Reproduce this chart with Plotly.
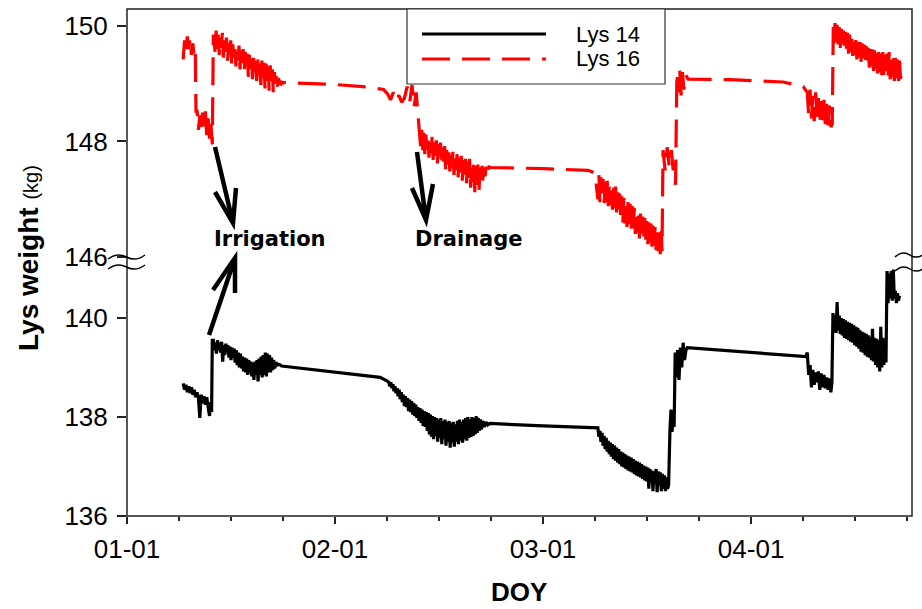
import plotly.graph_objects as go

# ---------------- data (day index: 30 units per labelled tick) ----------------
tick_vals = [0, 30, 60, 90]
tick_text = ["01-01", "02-01", "03-01", "04-01"]

# Lys 16 samples: (day, kg)
lys16_samples = [
    (8.1, 149.42), (8.3, 149.75), (8.5, 149.55), (8.7, 149.82), (8.9, 149.6), (9.1, 149.78),
    (9.3, 149.5), (9.5, 149.7), (9.7, 149.45), (9.85, 149.55), (9.95, 148.5),
    (10.1, 148.55), (10.3, 148.2), (10.5, 148.45), (10.7, 148.15), (10.9, 148.5), (11.1, 148.25),
    (11.3, 148.52), (11.5, 148.1), (11.7, 148.4), (11.9, 148.05), (12.1, 148.3), (12.3, 147.95),
    (12.45, 149.85),
    (12.55, 149.75), (12.70, 149.55), (12.85, 149.92), (13.00, 149.6), (13.15, 149.85), (13.30, 149.5),
    (13.45, 149.8), (13.60, 149.62), (13.75, 149.88), (13.90, 149.45), (14.05, 149.78), (14.20, 149.55),
    (14.35, 149.8), (14.50, 149.4), (14.65, 149.7), (14.80, 149.5), (14.95, 149.75), (15.10, 149.35),
    (15.25, 149.68), (15.40, 149.45), (15.55, 149.7), (15.70, 149.3), (15.85, 149.62), (16.00, 149.4),
    (16.15, 149.66), (16.30, 149.25), (16.45, 149.58), (16.60, 149.35), (16.75, 149.6), (16.90, 149.2),
    (17.05, 149.55), (17.20, 149.3), (17.35, 149.52), (17.50, 149.12), (17.65, 149.5), (17.80, 149.25),
    (17.95, 149.48), (18.10, 149.08), (18.25, 149.45), (18.40, 149.2), (18.55, 149.5), (18.70, 149.05),
    (18.85, 149.42), (19.00, 149.15), (19.15, 149.45), (19.30, 148.98), (19.45, 149.4), (19.60, 149.1),
    (19.75, 149.38), (19.90, 148.92), (20.05, 149.35), (20.20, 149.05), (20.35, 149.3), (20.50, 148.88),
    (20.65, 149.32), (20.80, 149.0), (20.95, 149.25), (21.10, 148.85), (21.25, 149.2), (21.40, 149.0),
    (21.55, 149.15), (21.70, 148.95), (21.85, 149.1), (22.00, 148.98), (22.15, 149.05), (22.30, 149.0),
    (22.50, 149.02),
    (29.5, 148.99), (34.0, 148.95), (37.0, 148.9),
    (37.6, 148.82), (38.0, 148.72), (38.4, 148.85), (38.8, 148.7), (39.2, 148.8), (39.6, 148.68),
    (40.0, 148.75), (40.4, 148.95), (40.8, 148.7), (41.1, 148.98), (41.4, 148.6), (41.7, 148.85),
    (42.0, 148.45), (42.2, 148.25),
    (42.35, 147.9), (42.50, 148.2), (42.65, 147.85), (42.80, 148.15), (42.95, 147.78), (43.10, 148.12),
    (43.25, 147.85), (43.40, 148.1), (43.55, 147.72), (43.70, 148.05), (43.85, 147.8), (44.00, 148.08),
    (44.15, 147.68), (44.30, 148.0), (44.45, 147.75), (44.60, 148.02), (44.75, 147.62), (44.90, 147.95),
    (45.05, 147.7), (45.20, 147.98), (45.35, 147.58), (45.50, 147.9), (45.65, 147.65), (45.80, 147.92),
    (45.95, 147.52), (46.10, 147.85), (46.25, 147.6), (46.40, 147.88), (46.55, 147.48), (46.70, 147.8),
    (46.85, 147.55), (47.00, 147.82), (47.15, 147.42), (47.30, 147.75), (47.45, 147.5), (47.60, 147.78),
    (47.75, 147.38), (47.90, 147.72), (48.05, 147.45), (48.20, 147.75), (48.35, 147.32), (48.50, 147.68),
    (48.65, 147.4), (48.80, 147.7), (48.95, 147.28), (49.10, 147.65), (49.25, 147.35), (49.40, 147.7),
    (49.55, 147.2), (49.70, 147.62), (49.85, 147.3), (50.00, 147.65), (50.15, 147.12), (50.30, 147.58),
    (50.45, 147.25), (50.60, 147.6), (50.75, 147.1), (50.90, 147.55), (51.05, 147.3), (51.20, 147.58),
    (51.35, 147.25), (51.50, 147.55), (51.65, 147.4), (51.80, 147.58), (52.00, 147.45), (52.20, 147.56),
    (52.50, 147.55),
    (60.0, 147.53), (66.5, 147.5), (67.5, 147.45),
    (67.90, 147.0), (68.05, 147.42), (68.20, 146.95), (68.35, 147.38), (68.50, 147.0), (68.65, 147.35),
    (68.80, 146.92), (68.95, 147.3), (69.10, 146.95), (69.25, 147.32), (69.40, 146.88), (69.55, 147.28),
    (69.70, 146.9), (69.85, 147.25), (70.00, 146.82), (70.15, 147.2), (70.30, 146.85), (70.45, 147.22),
    (70.60, 146.75), (70.75, 147.12), (70.90, 146.8), (71.05, 147.1), (71.20, 146.65), (71.35, 147.05),
    (71.50, 146.6), (71.65, 147.02), (71.80, 146.58), (71.95, 146.98), (72.10, 146.52), (72.25, 146.95),
    (72.40, 146.55), (72.55, 146.92), (72.70, 146.45), (72.85, 146.88), (73.00, 146.5), (73.15, 146.85),
    (73.30, 146.4), (73.45, 146.8), (73.60, 146.42), (73.75, 146.78), (73.90, 146.32), (74.05, 146.75),
    (74.20, 146.35), (74.35, 146.7), (74.50, 146.28), (74.65, 146.68), (74.80, 146.3), (74.95, 146.62),
    (75.10, 146.22), (75.25, 146.6), (75.40, 146.25), (75.55, 146.58), (75.70, 146.18), (75.85, 146.55),
    (76.00, 146.2), (76.15, 146.52), (76.30, 146.12), (76.45, 146.5), (76.60, 146.1), (76.75, 146.48),
    (76.90, 146.05), (77.05, 146.45), (77.15, 146.1),
    (77.3, 147.85), (77.6, 147.5), (77.9, 147.9), (78.2, 147.55), (78.5, 147.85), (78.8, 147.45),
    (79.1, 147.25),
    (79.3, 149.2), (79.5, 148.85), (79.7, 149.25), (79.9, 148.8), (80.1, 149.2), (80.3, 148.9),
    (80.6, 149.15), (80.9, 149.08),
    (87.0, 149.07), (94.6, 149.03), (97.5, 148.95),
    (98.1, 148.85), (98.3, 148.45), (98.5, 148.9), (98.7, 148.4), (98.9, 148.8), (99.1, 148.35),
    (99.3, 148.85), (99.5, 148.4), (99.7, 148.75), (99.9, 148.3), (100.1, 148.7), (100.3, 148.35),
    (100.5, 148.72), (100.7, 148.3), (100.9, 148.65), (101.1, 148.28), (101.3, 148.62), (101.5, 148.25),
    (101.7, 148.3),
    (101.85, 150.0),
    (101.95, 149.7), (102.10, 150.05), (102.25, 149.72), (102.40, 150.02), (102.55, 149.68), (102.70, 149.98),
    (102.85, 149.62), (103.00, 149.95), (103.15, 149.65), (103.30, 149.92), (103.45, 149.58), (103.60, 149.9),
    (103.75, 149.6), (103.90, 149.88), (104.05, 149.52), (104.20, 149.85), (104.35, 149.55), (104.50, 149.82),
    (104.65, 149.48), (104.80, 149.8), (104.95, 149.5), (105.10, 149.78), (105.25, 149.42), (105.40, 149.75),
    (105.55, 149.45), (105.70, 149.72), (105.85, 149.38), (106.00, 149.7), (106.15, 149.4), (106.30, 149.68),
    (106.45, 149.32), (106.60, 149.65), (106.75, 149.35), (106.90, 149.62), (107.05, 149.28), (107.20, 149.6),
    (107.35, 149.3), (107.50, 149.6), (107.65, 149.22), (107.80, 149.58), (107.95, 149.25), (108.10, 149.55),
    (108.25, 149.18), (108.40, 149.55), (108.55, 149.2), (108.70, 149.52), (108.85, 149.15), (109.00, 149.55),
    (109.15, 149.12), (109.30, 149.5), (109.45, 149.15), (109.60, 149.52), (109.75, 149.1), (109.90, 149.55),
    (110.05, 149.08), (110.20, 149.5), (110.35, 149.12), (110.50, 149.48), (110.65, 149.05), (110.80, 149.45),
    (110.95, 149.1), (111.10, 149.42), (111.25, 149.05), (111.40, 149.4), (111.55, 149.08), (111.70, 149.35),
]

# Lys 14 samples: (day, kg)
lys14_samples = [
    (8.1, 138.68), (8.3, 138.55), (8.5, 138.65), (8.7, 138.5), (8.9, 138.62), (9.1, 138.48),
    (9.3, 138.6), (9.5, 138.45), (9.7, 138.55), (9.9, 138.4), (10.1, 138.5), (10.3, 138.38),
    (10.5, 137.98), (10.7, 138.45), (10.9, 138.28), (11.1, 138.42), (11.3, 138.25), (11.5, 138.4),
    (11.7, 138.2), (11.9, 138.02), (12.05, 138.3), (12.2, 138.1),
    (12.3, 139.55),
    (12.45, 139.55), (12.60, 139.35), (12.75, 139.5), (12.90, 139.28), (13.05, 139.55), (13.20, 139.35),
    (13.35, 139.5), (13.50, 139.3), (13.65, 139.52), (13.80, 139.12), (13.95, 139.45), (14.10, 139.25),
    (14.25, 139.48), (14.40, 139.3), (14.55, 139.45), (14.70, 139.2), (14.85, 139.42), (15.00, 139.15),
    (15.15, 139.4), (15.30, 139.2), (15.45, 139.38), (15.60, 139.1), (15.75, 139.35), (15.90, 139.05),
    (16.05, 139.3), (16.20, 139.0), (16.35, 139.28), (16.50, 138.98), (16.65, 139.22), (16.80, 138.92),
    (16.95, 139.2), (17.10, 138.9), (17.25, 139.18), (17.40, 138.85), (17.55, 139.15), (17.70, 138.88),
    (17.85, 139.12), (18.00, 138.82), (18.15, 139.1), (18.30, 138.75), (18.45, 139.12), (18.60, 138.85),
    (18.75, 139.15), (18.90, 138.72), (19.05, 139.18), (19.20, 138.85), (19.35, 139.22), (19.50, 138.8),
    (19.65, 139.25), (19.80, 138.85), (19.95, 139.3), (20.10, 138.82), (20.25, 139.28), (20.40, 138.9),
    (20.55, 139.25), (20.70, 138.9), (20.85, 139.2), (21.00, 138.95), (21.15, 139.15), (21.30, 138.98),
    (21.50, 139.1), (21.75, 139.05), (22.00, 139.06), (22.30, 139.03),
    (30.0, 138.9), (36.5, 138.8), (37.6, 138.72),
    (37.75, 138.7), (37.90, 138.62), (38.05, 138.7), (38.20, 138.58), (38.35, 138.66), (38.50, 138.52),
    (38.65, 138.62), (38.80, 138.48), (38.95, 138.58), (39.10, 138.42), (39.25, 138.55), (39.40, 138.36),
    (39.55, 138.5), (39.70, 138.3), (39.85, 138.45), (40.00, 138.22), (40.15, 138.42), (40.30, 138.2),
    (40.45, 138.38), (40.60, 138.12), (40.75, 138.35), (40.90, 138.1), (41.05, 138.32), (41.20, 138.05),
    (41.35, 138.28), (41.50, 138.02), (41.65, 138.25), (41.80, 137.98), (41.95, 138.2), (42.10, 137.92),
    (42.25, 138.18), (42.40, 137.88), (42.55, 138.15), (42.70, 137.82), (42.85, 138.12), (43.00, 137.8),
    (43.15, 138.1), (43.30, 137.72), (43.45, 138.08), (43.60, 137.65), (43.75, 138.05), (43.90, 137.6),
    (44.05, 138.02), (44.20, 137.55), (44.35, 138.0), (44.50, 137.62), (44.65, 137.98), (44.80, 137.5),
    (44.95, 137.95), (45.10, 137.58), (45.25, 137.98), (45.40, 137.45), (45.55, 137.92), (45.70, 137.55),
    (45.85, 137.95), (46.00, 137.42), (46.15, 137.9), (46.30, 137.5), (46.45, 137.92), (46.60, 137.38),
    (46.75, 137.88), (46.90, 137.48), (47.05, 137.9), (47.20, 137.4), (47.35, 137.85), (47.50, 137.5),
    (47.65, 137.92), (47.80, 137.45), (47.95, 137.95), (48.10, 137.52), (48.25, 137.9), (48.40, 137.48),
    (48.55, 137.95), (48.70, 137.55), (48.85, 137.98), (49.00, 137.52), (49.15, 138.0), (49.30, 137.58),
    (49.45, 137.95), (49.60, 137.6), (49.75, 138.0), (49.90, 137.62), (50.05, 137.98), (50.20, 137.65),
    (50.35, 138.02), (50.50, 137.68), (50.65, 137.98), (50.80, 137.72), (50.95, 137.95), (51.10, 137.75),
    (51.30, 137.92), (51.50, 137.8), (51.75, 137.9), (52.00, 137.84), (52.30, 137.87),
    (60.0, 137.82), (67.5, 137.78),
    (67.90, 137.78), (68.05, 137.6), (68.20, 137.72), (68.35, 137.5), (68.50, 137.68), (68.65, 137.42),
    (68.80, 137.62), (68.95, 137.35), (69.10, 137.58), (69.25, 137.3), (69.40, 137.52), (69.55, 137.25),
    (69.70, 137.48), (69.85, 137.2), (70.00, 137.45), (70.15, 137.15), (70.30, 137.42), (70.45, 137.12),
    (70.60, 137.38), (70.75, 137.08), (70.90, 137.35), (71.05, 137.05), (71.20, 137.3), (71.35, 137.0),
    (71.50, 137.28), (71.65, 136.98), (71.80, 137.25), (71.95, 136.95), (72.10, 137.22), (72.25, 136.92),
    (72.40, 137.2), (72.55, 136.9), (72.70, 137.18), (72.85, 136.88), (73.00, 137.15), (73.15, 136.85),
    (73.30, 137.12), (73.45, 136.82), (73.60, 137.1), (73.75, 136.8), (73.90, 137.08), (74.05, 136.78),
    (74.20, 137.05), (74.35, 136.75), (74.50, 137.02), (74.65, 136.72), (74.80, 137.0), (74.95, 136.7),
    (75.10, 136.98), (75.25, 136.55), (75.40, 136.95), (75.55, 136.68), (75.70, 136.92), (75.85, 136.5),
    (76.00, 136.9), (76.15, 136.65), (76.30, 136.95), (76.45, 136.48), (76.60, 136.9), (76.75, 136.62),
    (76.90, 136.88), (77.05, 136.5), (77.20, 136.85), (77.35, 136.55), (77.50, 136.82), (77.65, 136.5),
    (77.80, 136.78), (77.95, 136.55), (78.10, 136.62),
    (78.3, 137.75), (78.45, 138.15), (78.6, 137.7), (78.75, 138.1), (78.9, 137.8),
    (79.05, 139.3), (79.2, 138.8), (79.4, 139.35), (79.6, 138.75), (79.8, 139.4), (80.0, 139.0),
    (80.2, 139.5), (80.4, 139.15), (80.6, 139.35),
    (80.8, 139.4), (90.0, 139.3), (97.9, 139.22),
    (98.1, 139.3), (98.3, 138.85), (98.5, 139.05), (98.7, 138.6), (98.9, 138.95), (99.1, 138.65),
    (99.3, 138.9), (99.5, 138.7), (99.7, 138.92), (99.9, 138.55), (100.1, 138.88), (100.3, 138.6),
    (100.5, 138.85), (100.7, 138.58), (100.9, 138.8), (101.1, 138.55), (101.3, 138.78), (101.5, 138.5),
    (101.65, 138.7),
    (101.80, 140.1), (101.95, 139.72), (102.10, 140.05), (102.25, 139.7), (102.40, 140.32), (102.55, 139.75),
    (102.70, 140.05), (102.85, 139.68), (103.00, 140.0), (103.15, 139.65), (103.30, 139.98), (103.45, 139.6),
    (103.60, 139.95), (103.75, 139.58), (103.90, 139.92), (104.05, 139.55), (104.20, 139.9), (104.35, 139.52),
    (104.50, 139.88), (104.65, 139.5), (104.80, 139.85), (104.95, 139.45), (105.10, 139.82), (105.25, 139.42),
    (105.40, 139.8), (105.55, 139.38), (105.70, 139.75), (105.85, 139.32), (106.00, 139.72), (106.15, 139.3),
    (106.30, 139.7), (106.45, 139.25), (106.60, 139.68), (106.75, 139.22), (106.90, 139.65), (107.05, 139.2),
    (107.20, 139.62), (107.35, 139.15), (107.50, 139.78), (107.65, 139.12), (107.80, 139.6), (107.95, 139.05),
    (108.10, 139.58), (108.25, 139.0), (108.40, 139.55), (108.55, 138.92), (108.70, 139.82), (108.85, 139.0),
    (109.00, 139.6), (109.15, 139.05), (109.30, 139.52), (109.45, 139.1),
    (109.6, 140.95), (109.75, 140.3), (109.9, 140.9), (110.05, 140.4), (110.2, 140.95), (110.35, 140.35),
    (110.5, 140.98), (110.65, 140.4), (110.8, 140.55), (110.95, 140.3), (111.1, 140.5), (111.25, 140.35),
    (111.4, 140.45),
]

lys16_day = [d for d, _ in lys16_samples]
lys16_kg = [k for _, k in lys16_samples]
lys14_day = [d for d, _ in lys14_samples]
lys14_kg = [k for _, k in lys14_samples]

# ---------------- layout helpers (pixel -> paper) ----------------
W, H = 922, 609
L, R, T, B = 127, 912, 9, 516


def px(x):
    return (x - L) / (R - L)


def py(y):
    return (B - y) / (B - T)


def path(points_groups):
    s = ""
    for grp in points_groups:
        for i, (x, y) in enumerate(grp):
            s += ("M" if i == 0 else "L") + f"{px(x):.5f},{py(y):.5f} "
    return s.strip()


def squiggle(x0, x1, y):
    w = x1 - x0
    pts = [(x0, y + 2), (x0 + w * 0.25, y - 5), (x0 + w * 0.5, y), (x0 + w * 0.75, y + 5), (x1, y - 2)]
    (a, b), (c, d), (e, f), (g, h), (i, j) = pts
    return (f"M{px(a):.5f},{py(b):.5f} Q{px(c):.5f},{py(d):.5f} {px(e):.5f},{py(f):.5f} "
            f"Q{px(g):.5f},{py(h):.5f} {px(i):.5f},{py(j):.5f}")


FONT = "Liberation Sans, Arial, sans-serif"

fig = go.Figure()
fig.add_trace(go.Scatter(x=lys14_day, y=lys14_kg, mode="lines", name="Lys 14",
                         line=dict(color="black", width=3.2), yaxis="y", showlegend=False))
fig.add_trace(go.Scatter(x=lys16_day, y=lys16_kg, mode="lines", name="Lys 16",
                         line=dict(color="#ff0000", width=3.2, dash="28px,12px"), yaxis="y2",
                         showlegend=False))

shapes = []
shapes.append(dict(type="rect", xref="paper", yref="paper", x0=0, x1=1, y0=0, y1=1,
                   line=dict(color="#222", width=1.5), layer="above"))
for (x0, x1, y) in [(108, 145, 257), (108, 145, 267), (895, 925, 255), (895, 925, 269)]:
    shapes.append(dict(type="path", xref="paper", yref="paper", path=squiggle(x0, x1, y),
                       line=dict(color="black", width=1.5)))
arrow_line = dict(color="black", width=4.5)
shapes.append(dict(type="path", xref="paper", yref="paper",
                   path=path([[(215, 147), (233, 223)], [(215, 192), (233, 223), (236, 188)]]),
                   line=arrow_line))
shapes.append(dict(type="path", xref="paper", yref="paper",
                   path=path([[(209, 335), (235, 258)], [(213, 290), (235, 258), (235, 293)]]),
                   line=arrow_line))
shapes.append(dict(type="path", xref="paper", yref="paper",
                   path=path([[(417, 152), (426, 220)], [(412, 188), (426, 220), (433, 184)]]),
                   line=arrow_line))
shapes.append(dict(type="rect", xref="paper", yref="paper", x0=px(407), x1=px(665), y0=py(84), y1=py(9),
                   line=dict(color="#333", width=1.2), fillcolor="white", layer="above"))
shapes.append(dict(type="line", xref="paper", yref="paper", x0=px(422), x1=px(546), y0=py(34), y1=py(34),
                   line=dict(color="black", width=3), layer="above"))
shapes.append(dict(type="line", xref="paper", yref="paper", x0=px(422), x1=px(546), y0=py(59), y1=py(59),
                   line=dict(color="#ff0000", width=3, dash="28px,12px"), layer="above"))

annotations = [
    dict(text="Lys 14", x=px(642), y=py(34), xref="paper", yref="paper", xanchor="right",
         yanchor="middle", showarrow=False, font=dict(family=FONT, size=22, color="black")),
    dict(text="Lys 16", x=px(642), y=py(59), xref="paper", yref="paper", xanchor="right",
         yanchor="middle", showarrow=False, font=dict(family=FONT, size=22, color="black")),
    dict(text="<b>Irrigation</b>", x=px(270), y=py(239), xref="paper", yref="paper",
         xanchor="center", yanchor="middle", showarrow=False,
         font=dict(family="DejaVu Sans", size=21, color="black")),
    dict(text="<b>Drainage</b>", x=px(469), y=py(239), xref="paper", yref="paper",
         xanchor="center", yanchor="middle", showarrow=False,
         font=dict(family="DejaVu Sans", size=21, color="black")),
    dict(text="<b>Lys weight</b> <span style='font-size:20px'>(kg)</span>", x=px(28), y=py(258),
         xref="paper", yref="paper", xanchor="center", yanchor="middle", textangle=-90,
         showarrow=False, font=dict(family=FONT, size=28, color="black")),
    dict(text="<b>DOY</b>", x=px(519), y=py(592), xref="paper", yref="paper", xanchor="center",
         yanchor="middle", showarrow=False, font=dict(family=FONT, size=26, color="black")),
]

fig.update_layout(
    width=W, height=H,
    margin=dict(l=L, r=W - R, t=T, b=H - B),
    paper_bgcolor="white", plot_bgcolor="white",
    showlegend=False,
    font=dict(family=FONT, size=26, color="black"),
    xaxis=dict(range=[0, 113.2], tickmode="array", tickvals=tick_vals, ticktext=tick_text,
               ticks="outside", ticklen=7, tickwidth=1.5, tickcolor="#222", showgrid=False,
               zeroline=False, showline=False, ticklabelstandoff=3, automargin=False,
               minor=dict(tickmode="linear", tick0=0, dtick=7.5, ticks="outside", ticklen=4,
                          tickwidth=1.5, tickcolor="#222", showgrid=False)),
    yaxis=dict(domain=[0, py(267)], range=[136, 141.03], tickmode="array",
               tickvals=[136, 138, 140], ticks="outside", ticklen=9, tickwidth=1.5,
               tickcolor="#222", showgrid=False, zeroline=False, showline=False,
               ticklabelstandoff=4, automargin=False),
    yaxis2=dict(domain=[py(257), 1], range=[146, 150.294], tickmode="array",
                tickvals=[146, 148, 150], ticks="outside", ticklen=9, tickwidth=1.5,
                tickcolor="#222", showgrid=False, zeroline=False, showline=False,
                ticklabelstandoff=4, anchor="x", automargin=False),
    shapes=shapes,
    annotations=annotations,
)

fig.write_html("out.html", config={"displayModeBar": False},
               post_script="document.body.style.margin='0';")
